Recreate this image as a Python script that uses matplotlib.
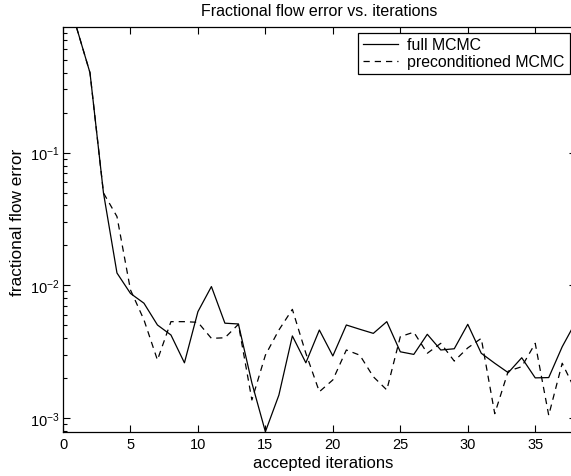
import numpy as np
import matplotlib
matplotlib.use("Agg")
import matplotlib.pyplot as plt
from matplotlib.ticker import LogLocator, NullFormatter, MultipleLocator

# values
iters = list(range(1, 39))
full_mcmc = [0.88, 0.40, 0.0497, 0.0124, 0.0087, 0.00734, 0.00503, 0.00423, 0.00261, 0.00634,
             0.0098, 0.00519, 0.00512, 0.00184, 0.00079, 0.00149, 0.00416, 0.00261, 0.00461, 0.00294,
             0.00503, 0.00467, 0.00435, 0.00533, 0.00316, 0.00302, 0.00428, 0.00326, 0.00333, 0.00509,
             0.00308, 0.00259, 0.00220, 0.00285, 0.00201, 0.00202, 0.00345, 0.0053]
precond_mcmc = [0.88, 0.40, 0.0497, 0.033, 0.00925, 0.0055, 0.00274, 0.00533, 0.00533, 0.00527,
                0.00399, 0.00403, 0.00509, 0.00137, 0.00298, 0.00461, 0.0066, 0.00308, 0.00158, 0.00194,
                0.00326, 0.00298, 0.00205, 0.00163, 0.00411, 0.00444, 0.00308, 0.00366, 0.00269, 0.00338,
                0.00399, 0.00108, 0.00226, 0.00244, 0.00366, 0.00105, 0.00259, 0.0016]

plt.rcParams["font.family"] = ["Liberation Sans", "DejaVu Sans"]
plt.rcParams["mathtext.fontset"] = "custom"
plt.rcParams["mathtext.rm"] = "Liberation Sans"
plt.rcParams["mathtext.it"] = "Liberation Sans"

W, H = 571, 477
fig = plt.figure(figsize=(W / 100, H / 100), dpi=100)
# the reference is cropped a little on the right, so the axes run past the edge
ax = fig.add_axes([63 / W, 1 - 432.7 / H, 512.7 / W, 404.4 / H])

ax.plot(iters, precond_mcmc, color="black", lw=0.9, ls=(0, (5, 4)), label="preconditioned MCMC")
ax.plot(iters, full_mcmc, color="black", lw=0.9, ls="-", label="full MCMC")

ax.set_yscale("log")
ax.set_xlim(0, 38)
ax.set_ylim(min(full_mcmc + precond_mcmc), max(full_mcmc + precond_mcmc))
ax.xaxis.set_major_locator(MultipleLocator(5))
ax.yaxis.set_major_locator(LogLocator(base=10, numticks=10))
ax.yaxis.set_minor_locator(LogLocator(base=10, subs=np.arange(2, 10), numticks=10))
ax.yaxis.set_minor_formatter(NullFormatter())

ax.tick_params(which="both", direction="in", top=True, right=True, labelsize=10.5, width=0.8)
ax.tick_params(which="major", length=5)
ax.tick_params(which="minor", length=3)
ax.tick_params(axis="x", pad=4)
ax.tick_params(axis="y", pad=2.5)
for s in ax.spines.values():
    s.set_linewidth(0.9)

fig.text(319 / W, 1 - 12 / H, "Fractional flow error vs. iterations",
         fontsize=11.5, ha="center", va="center")
fig.text(323 / W, 1 - 464 / H, "accepted iterations",
         fontsize=12, ha="center", va="center")
fig.text(18 / W, 1 - 222.5 / H, "fractional flow error",
         fontsize=12.4, ha="center", va="center", rotation=90)

handles, labels = ax.get_legend_handles_labels()
leg = ax.legend(handles[::-1], labels[::-1], loc="upper right",
                bbox_to_anchor=(569.5 / W, 1 - 33.5 / H), bbox_transform=fig.transFigure,
                frameon=True, fancybox=False, edgecolor="black", framealpha=1,
                fontsize=11.4, handlelength=2.2, handletextpad=0.6,
                borderpad=0.3, labelspacing=0.12, borderaxespad=0)
leg.get_frame().set_linewidth(0.9)

fig.savefig("out.png", dpi=100)
